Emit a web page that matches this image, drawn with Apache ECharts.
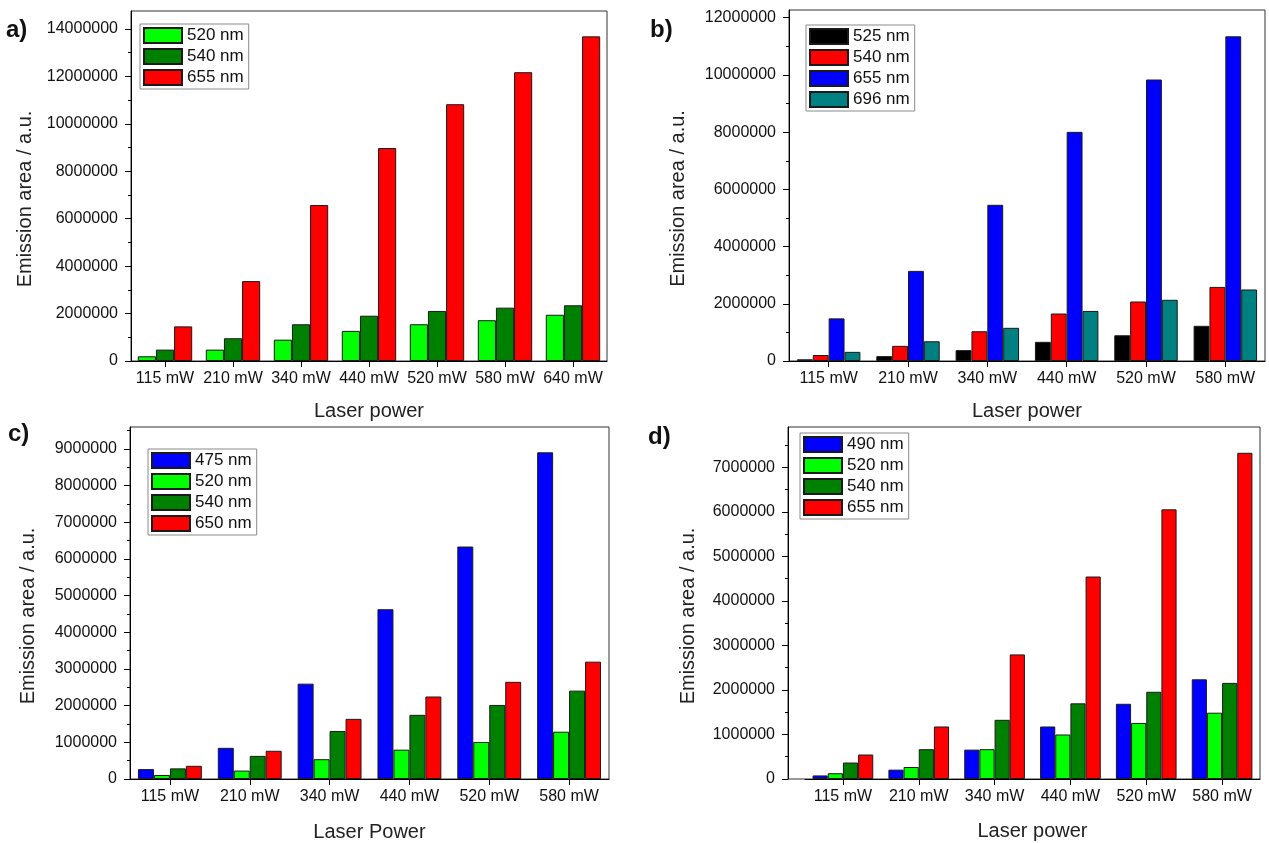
<!DOCTYPE html>
<html>
<head>
<meta charset="utf-8">
<script src="https://cdn.jsdelivr.net/npm/echarts@6/dist/echarts.min.js"></script>
<style>
html,body{margin:0;padding:0;background:#fff;}
#chart{width:1269px;height:843px;}
</style>
</head>
<body>
<div id="chart"></div>
<script>
// ---------- DATA ----------
const catsA = ['115 mW','210 mW','340 mW','440 mW','520 mW','580 mW','640 mW'];
const catsB = ['115 mW','210 mW','340 mW','440 mW','520 mW','580 mW'];
const catsC = ['115 mW','210 mW','340 mW','440 mW','520 mW','580 mW'];
const catsD = ['115 mW','210 mW','340 mW','440 mW','520 mW','580 mW'];

const a520 = [200000, 480000, 900000, 1270000, 1550000, 1720000, 1950000];
const a540 = [480000, 960000, 1550000, 1910000, 2110000, 2250000, 2350000];
const a655 = [1460000, 3370000, 6580000, 8980000, 10830000, 12180000, 13690000];

const b525 = [60000, 170000, 380000, 670000, 900000, 1230000];
const b540 = [210000, 530000, 1040000, 1660000, 2080000, 2590000];
const b655 = [1490000, 3150000, 5460000, 8010000, 9840000, 11350000];
const b696 = [320000, 690000, 1160000, 1750000, 2140000, 2500000];

const c475 = [270000, 850000, 2600000, 4630000, 6340000, 8910000];
const c520 = [110000, 230000, 540000, 800000, 1010000, 1290000];
const c540 = [290000, 630000, 1310000, 1750000, 2020000, 2410000];
const c650 = [360000, 770000, 1640000, 2250000, 2650000, 3200000];

const d490 = [80000, 210000, 660000, 1180000, 1690000, 2240000];
const d520 = [130000, 270000, 670000, 1000000, 1260000, 1490000];
const d540 = [370000, 670000, 1330000, 1700000, 1960000, 2160000];
const d655 = [550000, 1180000, 2800000, 4550000, 6060000, 7330000];

const yTicksA = [0, 2000000, 4000000, 6000000, 8000000, 10000000, 12000000, 14000000];
const yMinorA = [1000000, 3000000, 5000000, 7000000, 9000000, 11000000, 13000000];
const yTicksB = [0, 2000000, 4000000, 6000000, 8000000, 10000000, 12000000];
const yMinorB = [1000000, 3000000, 5000000, 7000000, 9000000, 11000000];
const yTicksC = [0, 1000000, 2000000, 3000000, 4000000, 5000000, 6000000, 7000000, 8000000, 9000000];
const yMinorC = [500000, 1500000, 2500000, 3500000, 4500000, 5500000, 6500000, 7500000, 8500000, 9500000];
const yTicksD = [0, 1000000, 2000000, 3000000, 4000000, 5000000, 6000000, 7000000];
const yMinorD = [500000, 1500000, 2500000, 3500000, 4500000, 5500000, 6500000, 7500000];

const yMaxA = 14760000, yMaxB = 12270000, yMaxC = 9600000, yMaxD = 7910000;

const yName = 'Emission area / a.u.';
const xNameA = 'Laser power', xNameB = 'Laser power', xNameC = 'Laser Power', xNameD = 'Laser power';

// ---------- COLOURS ----------
const LIME = '#00ff00', DKGREEN = '#008000', RED = '#ff0000', BLUE = '#0000ff', TEAL = '#008080', BLACK = '#000000';

const FONT = '"Liberation Sans", Arial, sans-serif';

// ---------- HELPERS ----------
function xAxisFor(grid, cats, name, gap) {
  return {
    type: 'category', gridIndex: grid, data: cats,
    boundaryGap: true,
    axisLine: { show: true, onZero: false, lineStyle: { color: '#000', width: 1 } },
    axisTick: { show: true, alignWithLabel: true, length: 6, inside: false, lineStyle: { color: '#000' } },
    axisLabel: { interval: 0, fontSize: 16, color: '#111', margin: 10, fontFamily: FONT },
    splitLine: { show: false },
    name: name, nameLocation: 'middle', nameGap: gap,
    nameTextStyle: { fontSize: 20, color: '#222', fontFamily: FONT }
  };
}
function yAxisMain(grid, max, ticks, gap, offset) {
  return {
    type: 'value', gridIndex: grid, min: 0, max: max, position: 'left', offset: offset || 0,
    axisLine: { show: true, lineStyle: { color: '#000', width: 1 } },
    axisTick: { show: true, length: 6, inside: false, customValues: ticks, lineStyle: { color: '#000' } },
    axisLabel: { show: true, customValues: ticks, fontSize: 16, color: '#111', margin: 13, fontFamily: FONT,
                 formatter: v => String(Math.round(v)) },
    splitLine: { show: false },
    name: yName, nameLocation: 'middle', nameGap: gap, nameRotate: 90,
    nameTextStyle: { fontSize: 20, color: '#222', fontFamily: FONT, padding: [0, 26, 0, 0] }
  };
}
function yAxisMinor(grid, max, minor, offset) {
  return {
    type: 'value', gridIndex: grid, min: 0, max: max, position: 'left', offset: offset || 0,
    axisLine: { show: false },
    axisTick: { show: true, length: 3, inside: false, customValues: minor, lineStyle: { color: '#000' } },
    axisLabel: { show: false },
    splitLine: { show: false }
  };
}
function bar(panel, label, data, color, xi, yi) {
  return {
    type: 'bar', name: panel + '|' + label, data: data,
    xAxisIndex: xi, yAxisIndex: yi,
    barGap: '0%', barCategoryGap: '20%',
    itemStyle: { color: color, borderColor: '#1a1a1a', borderWidth: 1 },
    emphasis: { disabled: true }
  };
}
function legendFor(left, top, names) {
  return {
    orient: 'vertical', left: left, top: top,
    data: names, selectedMode: false,
    itemWidth: 38, itemHeight: 15, itemGap: 4,
    padding: [3, 5, 3, 3],
    borderColor: '#8a8a8a', borderWidth: 1, backgroundColor: '#fff',
    icon: 'rect',
    textStyle: { fontSize: 17, color: '#111', fontFamily: FONT, lineHeight: 17, padding: [0, 0, 0, 0] },
    formatter: n => n.split('|')[1]
  };
}

const gridStyle = { show: true, borderColor: '#333', borderWidth: 1, backgroundColor: 'transparent' };
const labelStyle = { fontSize: 24, fontWeight: 'bold', color: '#111', fontFamily: FONT };

const option = {
  animation: false,
  backgroundColor: '#fff',
  textStyle: { fontFamily: FONT },
  title: [
    { text: 'a)', left: 6, top: 18, padding: 0, textStyle: labelStyle },
    { text: 'b)', left: 650, top: 18, padding: 0, textStyle: labelStyle },
    { text: 'c)', left: 8, top: 422, padding: 0, textStyle: labelStyle },
    { text: 'd)', left: 648, top: 425, padding: 0, textStyle: labelStyle }
  ],
  grid: [
    Object.assign({ left: 131, top: 11, width: 476, height: 350 }, gridStyle),
    Object.assign({ left: 789, top: 10, width: 476, height: 351 }, gridStyle),
    Object.assign({ left: 130, top: 427, width: 479, height: 352 }, gridStyle),
    { left: 805, top: 427, width: 455, height: 352, show: false },
    Object.assign({ left: 788, top: 427, width: 472, height: 352 }, gridStyle)
  ],
  xAxis: [
    xAxisFor(0, catsA, xNameA, 40),
    xAxisFor(1, catsB, xNameB, 40),
    xAxisFor(2, catsC, xNameC, 43),
    xAxisFor(3, catsD, xNameD, 42),
    { type: 'category', gridIndex: 4, data: catsD, show: false }
  ],
  yAxis: [
    yAxisMain(0, yMaxA, yTicksA, 96),
    yAxisMinor(0, yMaxA, yMinorA),
    yAxisMain(1, yMaxB, yTicksB, 101),
    yAxisMinor(1, yMaxB, yMinorB),
    yAxisMain(2, yMaxC, yTicksC, 92),
    yAxisMinor(2, yMaxC, yMinorC),
    yAxisMain(3, yMaxD, yTicksD, 90, 17),
    yAxisMinor(3, yMaxD, yMinorD, 17),
    { type: 'value', gridIndex: 4, show: false, min: 0, max: yMaxD }
  ],
  legend: [
    legendFor(140, 24, ['a|520 nm', 'a|540 nm', 'a|655 nm']),
    legendFor(806, 25, ['b|525 nm', 'b|540 nm', 'b|655 nm', 'b|696 nm']),
    legendFor(148, 449, ['c|475 nm', 'c|520 nm', 'c|540 nm', 'c|650 nm']),
    legendFor(800, 433, ['d|490 nm', 'd|520 nm', 'd|540 nm', 'd|655 nm'])
  ],
  series: [
    bar('a', '520 nm', a520, LIME, 0, 0),
    bar('a', '540 nm', a540, DKGREEN, 0, 0),
    bar('a', '655 nm', a655, RED, 0, 0),
    bar('b', '525 nm', b525, BLACK, 1, 2),
    bar('b', '540 nm', b540, RED, 1, 2),
    bar('b', '655 nm', b655, BLUE, 1, 2),
    bar('b', '696 nm', b696, TEAL, 1, 2),
    bar('c', '475 nm', c475, BLUE, 2, 4),
    bar('c', '520 nm', c520, LIME, 2, 4),
    bar('c', '540 nm', c540, DKGREEN, 2, 4),
    bar('c', '650 nm', c650, RED, 2, 4),
    bar('d', '490 nm', d490, BLUE, 3, 6),
    bar('d', '520 nm', d520, LIME, 3, 6),
    bar('d', '540 nm', d540, DKGREEN, 3, 6),
    bar('d', '655 nm', d655, RED, 3, 6)
  ]
};

const chart = echarts.init(document.getElementById('chart'), null, { renderer: 'canvas' });
chart.setOption(option);
</script>
</body>
</html>
